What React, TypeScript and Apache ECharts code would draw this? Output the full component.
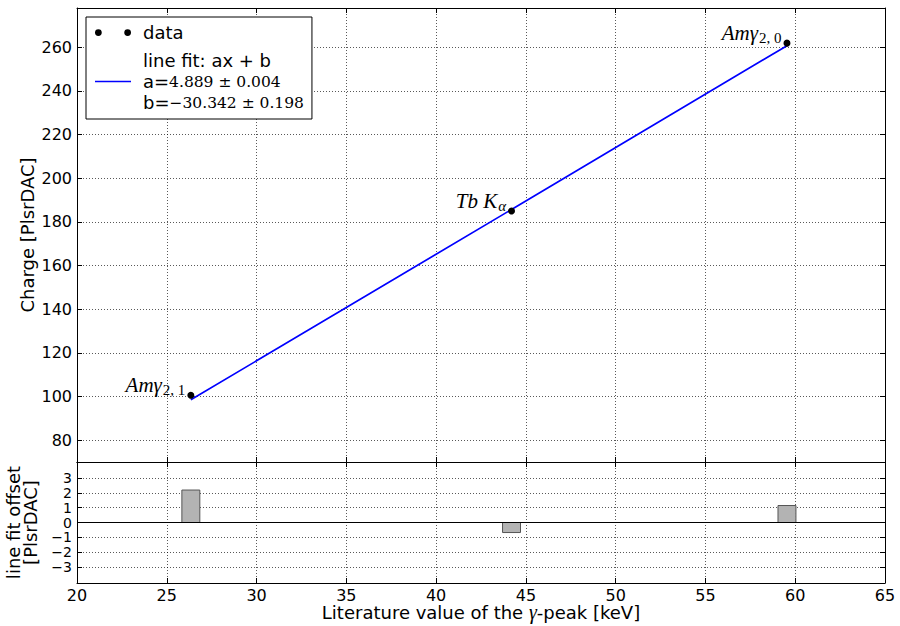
import React, { useEffect, useRef } from 'react';
import * as echarts from 'echarts';

// ---- data ----
const energies = [26.34, 44.2, 59.54];            // literature gamma-peak energies [keV]
const charges = [100.6, 185.0, 261.9];            // measured charge [PlsrDAC]
const fitCharges = [98.5, 185.7, 260.75];         // fitted line ax+b at the same energies
const residuals = [2.2, -0.68, 1.15];             // line fit offset [PlsrDAC]
const annotMain = ['Amγ', 'Tb K', 'Amγ'];
const annotSub = ['2, 1', 'α', '2, 0'];
const xTicks = [20, 25, 30, 35, 40, 45, 50, 55, 60, 65];
const topYTicks = [80, 100, 120, 140, 160, 180, 200, 220, 240, 260];
const bottomYTicks = [-3, -2, -1, 0, 1, 2, 3];
const fitA = '4.889 ± 0.004';
const fitB = '−30.342 ± 0.198';

const SANS = 'DejaVu Sans';
const SERIF = 'Liberation Serif';
const MATH = 'DejaVu Serif';
const BAR_WIDTH_KEV = 1;

const fmt = (v: number) => (v < 0 ? '−' + Math.abs(v) : String(v));

const gridLine = { show: true, lineStyle: { color: '#000', width: 1, type: [1, 2] as any, opacity: 0.65 } };
const axisLine = { show: true, onZero: false, lineStyle: { color: '#000', width: 1 } };
const tickStyle = { show: true, inside: true, length: 5, lineStyle: { color: '#000', width: 1 } };
const labelStyle = { fontFamily: SANS, fontSize: 16, color: '#000' };
const nameStyle = { fontFamily: SANS, fontSize: 18, color: '#000' };

// bottom-panel labels split over two overlaid axes so that none is auto-hidden
const bottomOdd = bottomYTicks.filter((v) => Math.abs(v) % 2 === 1);
const bottomEven = bottomYTicks.filter((v) => Math.abs(v) % 2 === 0);

export default function App() {
  const ref = useRef<HTMLDivElement>(null);
  useEffect(() => {
    if (!ref.current) return;
    const chart = echarts.init(ref.current, undefined, { renderer: 'svg' });
    const bottomLabel = (vals: number[]) => ({
      ...labelStyle, fontSize: 14, lineHeight: 13, margin: 5, customValues: vals, formatter: fmt,
      showMinLabel: true, showMaxLabel: true, hideOverlap: false,
    });
    const option: any = {
      animation: false,
      backgroundColor: '#fff',
      textStyle: { fontFamily: SANS },
      grid: [
        { left: 77, right: 15, top: 8, height: 454, containLabel: false, outerBoundsMode: 'none' },
        { left: 77, right: 15, top: 462, height: 121, containLabel: false, outerBoundsMode: 'none' },
      ],
      legend: {
        orient: 'vertical',
        left: 86,
        top: 17,
        backgroundColor: '#fff',
        borderColor: '#000',
        borderWidth: 1,
        padding: [5, 8, 6, 9],
        itemWidth: 36,
        itemHeight: 10,
        itemGap: 7,
        selectedMode: false,
        textStyle: {
          fontFamily: SANS,
          fontSize: 18,
          color: '#000',
          lineHeight: 21,
          padding: [0, 0, 0, 7],
          rich: {
            v: { fontFamily: MATH, fontSize: 15.5, color: '#000', lineHeight: 21 },
          },
        },
        data: [
          { name: 'data', icon: 'path://M0,3a3,3 0 1,0 6,0a3,3 0 1,0 -6,0zM26,3a3,3 0 1,0 6,0a3,3 0 1,0 -6,0z' },
          { name: 'fit', icon: 'path://M0,0L36,0L36,1.6L0,1.6Z' },
        ],
        formatter: (name: string) =>
          name === 'data' ? 'data' : `line fit: ax + b\na={v|${fitA}}\nb={v|${fitB}}`,
      },
      xAxis: [
        {
          gridIndex: 0, type: 'value', min: xTicks[0], max: xTicks[xTicks.length - 1], interval: 5,
          position: 'bottom', axisLine, axisTick: tickStyle, axisLabel: { show: false }, splitLine: gridLine,
        },
        {
          gridIndex: 0, type: 'value', min: xTicks[0], max: xTicks[xTicks.length - 1], interval: 5,
          position: 'top', axisLine, axisTick: tickStyle, axisLabel: { show: false }, splitLine: { show: false },
        },
        {
          gridIndex: 1, type: 'value', min: xTicks[0], max: xTicks[xTicks.length - 1], interval: 5,
          position: 'bottom', axisLine, axisTick: tickStyle,
          axisLabel: { ...labelStyle, lineHeight: 14, margin: 5 }, splitLine: gridLine,
          name: 'Literature value of the {g|γ}-peak [keV]',
          nameLocation: 'middle', nameGap: 21, nameMoveOverlap: false,
          nameTextStyle: {
            ...nameStyle,
            lineHeight: 16,
            rich: { g: { fontFamily: SERIF, fontStyle: 'italic', fontSize: 20, lineHeight: 16, color: '#000' } },
          },
        },
        {
          gridIndex: 1, type: 'value', min: xTicks[0], max: xTicks[xTicks.length - 1], interval: 5,
          position: 'top', axisLine, axisTick: tickStyle, axisLabel: { show: false }, splitLine: { show: false },
        },
      ],
      yAxis: [
        {
          gridIndex: 0, type: 'value', min: 70, max: 278, position: 'left', axisLine,
          axisTick: { ...tickStyle, customValues: topYTicks },
          axisLabel: { ...labelStyle, margin: 5, customValues: topYTicks, formatter: fmt, showMinLabel: true, showMaxLabel: true },
          splitLine: gridLine,
          name: 'Charge [PlsrDAC]', nameLocation: 'middle', nameRotate: 90, nameGap: 41, nameMoveOverlap: false,
          nameTextStyle: nameStyle,
        },
        {
          gridIndex: 0, type: 'value', min: 70, max: 278, position: 'right', axisLine,
          axisTick: { ...tickStyle, customValues: topYTicks }, axisLabel: { show: false }, splitLine: { show: false },
        },
        {
          gridIndex: 1, type: 'value', min: -4.1, max: 4.1, position: 'left', axisLine,
          axisTick: { ...tickStyle, customValues: bottomYTicks },
          axisLabel: bottomLabel(bottomOdd),
          splitLine: gridLine,
          name: 'line fit offset\n[PlsrDAC]', nameLocation: 'middle', nameRotate: 90, nameGap: 38, nameMoveOverlap: false,
          nameTextStyle: { ...nameStyle, lineHeight: 17 },
        },
        {
          gridIndex: 1, type: 'value', min: -4.1, max: 4.1, position: 'right', axisLine,
          axisTick: { ...tickStyle, customValues: bottomYTicks }, axisLabel: { show: false }, splitLine: { show: false },
        },
        {
          gridIndex: 1, type: 'value', min: -4.1, max: 4.1, position: 'left', offset: 0,
          axisLine: { show: false }, axisTick: { show: false, customValues: bottomEven },
          axisLabel: bottomLabel(bottomEven), splitLine: { show: false },
        },
      ],
      series: [
        {
          name: 'data',
          type: 'scatter',
          xAxisIndex: 0,
          yAxisIndex: 0,
          symbolSize: 7,
          itemStyle: { color: '#000', opacity: 1 },
          data: energies.map((e, i) => [e, charges[i]]),
          label: {
            show: true,
            position: 'left',
            distance: 2,
            offset: [0, -10],
            formatter: (p: any) => {
              const sub = annotSub[p.dataIndex];
              const subTag = /\d/.test(sub) ? 's' : 'si';
              return `{m|${annotMain[p.dataIndex]}}{${subTag}|${sub}}`;
            },
            rich: {
              m: { fontFamily: SERIF, fontStyle: 'italic', fontSize: 21, color: '#000' },
              s: { fontFamily: SERIF, fontSize: 15, color: '#000', padding: [10, 0, 0, 1] },
              si: { fontFamily: SERIF, fontStyle: 'italic', fontSize: 15, color: '#000', padding: [10, 0, 0, 1] },
            },
          },
          z: 3,
        },
        {
          name: 'fit',
          type: 'line',
          xAxisIndex: 0,
          yAxisIndex: 0,
          symbol: 'none',
          lineStyle: { color: '#0000ff', width: 1.7 },
          itemStyle: { color: '#0000ff' },
          data: energies.map((e, i) => [e, fitCharges[i]]),
          z: 2,
        },
        {
          name: 'residual',
          type: 'custom',
          xAxisIndex: 2,
          yAxisIndex: 2,
          data: energies.map((e, i) => [e, residuals[i]]),
          renderItem: (_params: any, api: any) => {
            const x = api.value(0);
            const y = api.value(1);
            const p1 = api.coord([x - BAR_WIDTH_KEV / 2, Math.max(y, 0)]);
            const p2 = api.coord([x + BAR_WIDTH_KEV / 2, Math.min(y, 0)]);
            return {
              type: 'rect',
              shape: { x: p1[0], y: p1[1], width: p2[0] - p1[0], height: p2[1] - p1[1] },
              style: { fill: '#b3b3b3', stroke: '#555', lineWidth: 1 },
            };
          },
          markLine: {
            silent: true,
            symbol: 'none',
            label: { show: false },
            lineStyle: { color: '#000', type: 'solid', width: 1 },
            data: [{ yAxis: 0 }],
          },
          z: 2,
        },
      ],
    };
    chart.setOption(option);
    return () => chart.dispose();
  }, []);
  return <div ref={ref} style={{ position: 'fixed', left: 0, top: 0, width: 900, height: 626 }} />;
}
